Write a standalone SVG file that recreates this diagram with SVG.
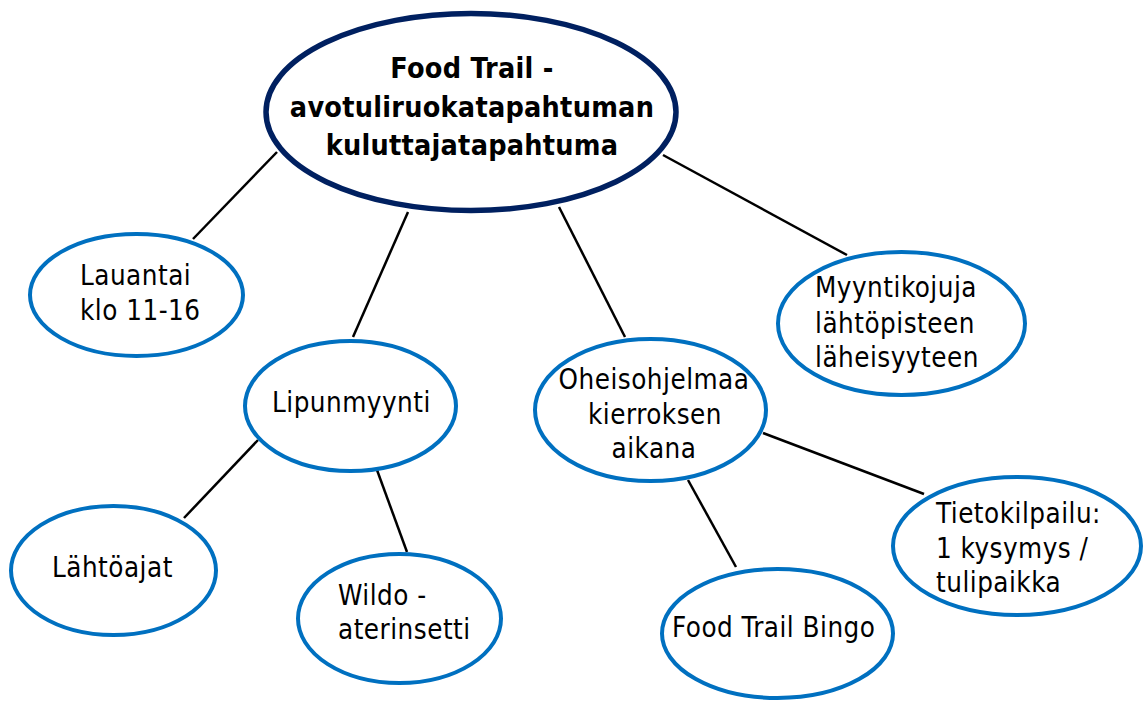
<svg xmlns="http://www.w3.org/2000/svg" width="1145" height="702" viewBox="0 0 1145 702">
<style>
.bg{fill:#ffffff}
.node{fill:#ffffff;stroke:#0070C0;stroke-width:4}
.main{fill:#ffffff;stroke:#002060;stroke-width:5.5}
.conn line{stroke:#000000;stroke-width:2.5}
text{font-family:"DejaVu Sans Condensed","DejaVu Sans",sans-serif;font-stretch:condensed;font-size:27.5px;letter-spacing:0.5px;fill:#000000}
.b{font-weight:bold;font-size:28.5px;letter-spacing:0.25px}
.c{text-anchor:middle}
</style>
<rect class="bg" x="0" y="0" width="1145" height="702"/>
<g id="connectors" class="conn">
<line x1="277" y1="152" x2="193" y2="239"/>
<line x1="408" y1="212" x2="353" y2="337"/>
<line x1="559" y1="207" x2="625" y2="337"/>
<line x1="663" y1="155" x2="847" y2="255"/>
<line x1="258" y1="440" x2="184" y2="518"/>
<line x1="377" y1="470" x2="407" y2="552"/>
<line x1="688" y1="480" x2="736" y2="567"/>
<line x1="763" y1="433" x2="924" y2="494"/>
</g>
<g id="node-main">
<ellipse class="main" cx="471" cy="112" rx="205" ry="98.5"/>
<text class="b c" x="472" y="78">Food Trail -</text>
<text class="b c" x="472" y="117">avotuliruokatapahtuman</text>
<text class="b c" x="472" y="155">kuluttajatapahtuma</text>
</g>
<g id="node-lauantai">
<ellipse class="node" cx="136.5" cy="295" rx="106.5" ry="61"/>
<text x="80" y="285">Lauantai</text>
<text x="80" y="320">klo 11-16</text>
</g>
<g id="node-lipunmyynti">
<ellipse class="node" cx="350.5" cy="406" rx="105.5" ry="65"/>
<text x="272" y="412">Lipunmyynti</text>
</g>
<g id="node-oheisohjelmaa">
<ellipse class="node" cx="650.5" cy="410" rx="115.5" ry="71"/>
<text class="c" x="654" y="389">Oheisohjelmaa</text>
<text class="c" x="655" y="424">kierroksen</text>
<text class="c" x="654" y="458">aikana</text>
</g>
<g id="node-myyntikojuja">
<ellipse class="node" cx="901.5" cy="323.5" rx="123.5" ry="71.5"/>
<text x="815" y="297">Myyntikojuja</text>
<text x="815" y="333">lähtöpisteen</text>
<text x="815" y="367">läheisyyteen</text>
</g>
<g id="node-lahtoajat">
<ellipse class="node" cx="113.5" cy="570.5" rx="102.5" ry="64.5"/>
<text x="52" y="577">Lähtöajat</text>
</g>
<g id="node-wildo">
<ellipse class="node" cx="399.5" cy="618.5" rx="101.5" ry="64.5"/>
<text x="338" y="605">Wildo -</text>
<text x="338" y="639">aterinsetti</text>
</g>
<g id="node-bingo">
<ellipse class="node" cx="777.5" cy="633.5" rx="115.5" ry="64.5"/>
<text x="672" y="637">Food Trail Bingo</text>
</g>
<g id="node-tietokilpailu">
<ellipse class="node" cx="1017" cy="546" rx="124" ry="69"/>
<text x="936" y="523">Tietokilpailu:</text>
<text x="936" y="558">1 kysymys /</text>
<text x="936" y="592">tulipaikka</text>
</g>
</svg>
